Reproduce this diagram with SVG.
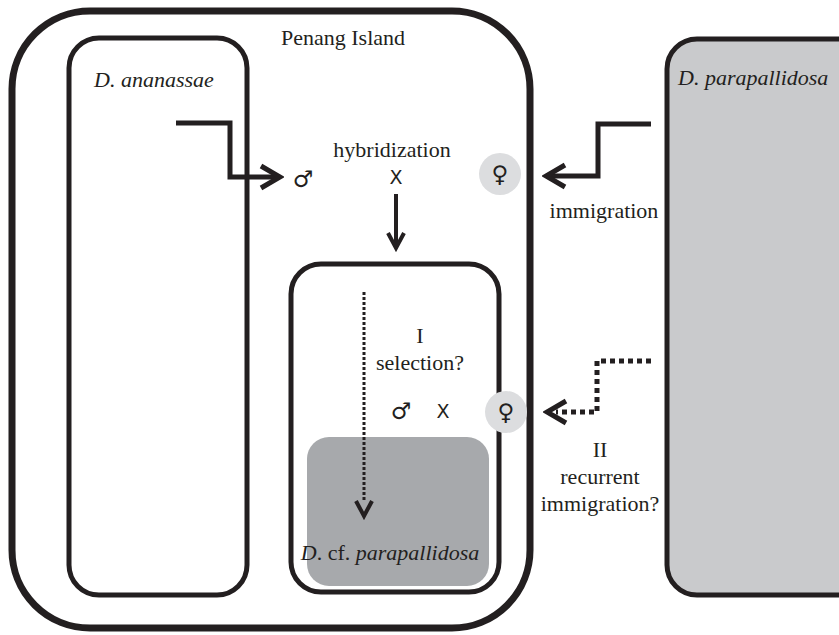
<svg xmlns="http://www.w3.org/2000/svg" width="839" height="635" viewBox="0 0 839 635">
<style>
.box{fill:none;stroke:#231f20;stroke-width:5}
.serif{font-family:"Liberation Serif","Times New Roman",serif;font-size:22px;fill:#231f20}
.it{font-style:italic}
.sym{font-family:"DejaVu Sans",sans-serif;font-size:23px;fill:#231f20}
.x{font-family:"DejaVu Sans",sans-serif;font-size:19px;fill:#231f20}
.fem{fill:#dcdddf}
.conn{fill:none;stroke:#231f20;stroke-linejoin:miter}
</style>
<defs>
<marker id="headL" markerUnits="userSpaceOnUse" viewBox="-26 -15 30 30" refX="0" refY="0" markerWidth="30" markerHeight="30" orient="auto">
<path d="M-19,-11 L0,0 L-19,11" fill="none" stroke="#231f20" stroke-width="5" stroke-linejoin="miter"/>
</marker>
<marker id="headS" markerUnits="userSpaceOnUse" viewBox="-20 -12 24 24" refX="0" refY="0" markerWidth="24" markerHeight="24" orient="auto">
<path d="M-15,-8 L0,0 L-15,8" fill="none" stroke="#231f20" stroke-width="4" stroke-linejoin="miter"/>
</marker>
</defs>
<rect width="839" height="635" fill="#ffffff"/>

<g id="penang-island">
<rect x="12" y="11" width="518" height="617" rx="78" ry="78" fill="none" stroke="#231f20" stroke-width="7"/>
<text class="serif" x="343" y="45" text-anchor="middle">Penang Island</text>
</g>

<g id="d-ananassae">
<rect class="box" x="69" y="38" width="178" height="557" rx="30" ry="30"/>
<text class="serif it" x="154" y="87" text-anchor="middle">D. ananassae</text>
</g>

<g id="d-parapallidosa">
<rect x="667" y="39" width="200" height="556" rx="30" ry="30" fill="#c9cacc" stroke="#231f20" stroke-width="5"/>
<text class="serif it" x="678" y="85">D. parapallidosa</text>
</g>

<g id="hybrid-box">
<rect class="box" x="291" y="264" width="208" height="328" rx="30" ry="30"/>
</g>

<g id="d-cf-parapallidosa">
<rect x="307" y="437" width="182" height="149" rx="22" ry="22" fill="#a7a9ac"/>
<text class="serif" x="390" y="560" text-anchor="middle"><tspan class="it">D</tspan>. cf. <tspan class="it">parapallidosa</tspan></text>
</g>

<g id="hybridization">
<text class="sym" x="303" y="187" text-anchor="middle">♂</text>
<text class="serif" x="392" y="157" text-anchor="middle">hybridization</text>
<text class="x" x="396" y="184" text-anchor="middle">X</text>
<circle class="fem" cx="500" cy="174" r="21"/>
<text class="sym" x="500" y="182" text-anchor="middle">♀</text>
</g>

<g id="selection">
<text class="serif" x="420" y="343" text-anchor="middle">I</text>
<text class="serif" x="420" y="370" text-anchor="middle">selection?</text>
<text class="sym" x="401" y="419" text-anchor="middle">♂</text>
<text class="x" x="443" y="418" text-anchor="middle">X</text>
</g>

<g id="immigration-label">
<text class="serif" x="604" y="218" text-anchor="middle">immigration</text>
</g>

<g id="recurrent-label">
<text class="serif" x="600" y="457" text-anchor="middle">II</text>
<text class="serif" x="600" y="484" text-anchor="middle">recurrent</text>
<text class="serif" x="600" y="511" text-anchor="middle">immigration?</text>
</g>

<g id="connectors">
<path class="conn" d="M176,123 H230 V177 H280" stroke-width="5" marker-end="url(#headL)"/>
<path class="conn" d="M651,124 H598 V176 H546" stroke-width="5" marker-end="url(#headL)"/>
<path class="conn" d="M396,194 V248" stroke-width="4" marker-end="url(#headS)"/>
<path class="conn" d="M364,292 V502" stroke-width="3" stroke-dasharray="3 2"/>
<path class="conn" d="M364,500 V516" stroke-width="3" stroke-opacity="0" marker-end="url(#headS)"/>
<path class="conn" d="M651,361 H597 V412 H556" stroke-width="5" stroke-dasharray="5 4"/>
<path class="conn" d="M556,412 H547" stroke-width="5" stroke-opacity="0" marker-end="url(#headL)"/>
</g>

<g id="female-immigrant">
<circle class="fem" cx="506" cy="412" r="21"/>
<text class="sym" x="506" y="420" text-anchor="middle">♀</text>
</g>
</svg>
